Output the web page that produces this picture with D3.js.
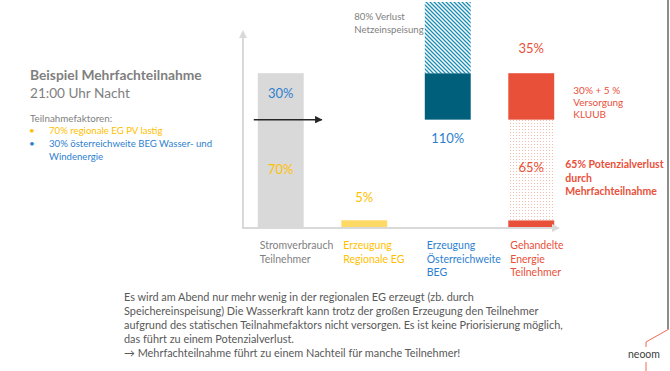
<!DOCTYPE html>
<html lang="de">
<head>
    <meta charset="UTF-8">
    <title>Beispiel Mehrfachteilnahme</title>
    <style>
        body { margin: 0; background: #fff; }
        svg { display: block; font-family: Lato, "Open Sans", sans-serif; }
    </style>
</head>
<body>
<svg width="670" height="371"></svg>
<script src="https://d3js.org/d3.v7.min.js"></script>
<script>
    // categories along the x axis (label lines)
    const categories = ["verbrauch", "regional", "beg", "gehandelt"];
    const categoryLabels = [
        ["Stromverbrauch", "Teilnehmer"],
        ["Erzeugung", "Regionale EG"],
        ["Erzeugung", "Österreichweite", "BEG"],
        ["Gehandelte", "Energie", "Teilnehmer"]
    ];
    const categoryColors = ["#7f7f7f", "#ffc000", "#2e7fd0", "#e9503a"];

    // stacked segments: [category, from %, to %, fill]
    const segCategory = ["verbrauch", "regional", "beg", "beg", "gehandelt", "gehandelt", "gehandelt"];
    const segFrom = [0, 0, 70, 100, 0, 5, 70];
    const segTo = [100, 5, 100, 146, 5, 70, 100];
    const segFill = ["#d9d9d9", "#ffd966", "#005f7a", "url(#hatch)", "#e9503a", "url(#dots)", "#e9503a"];

    // value labels: [category, y value, text, colour]
    const valCategory = ["verbrauch", "verbrauch", "regional", "beg", "gehandelt", "gehandelt"];
    const valY = [84, 35, 17, 55, 113, 36];
    const valText = ["30%", "70%", "5%", "110%", "35%", "65%"];
    const valColor = ["#2e7fd0", "#ffc000", "#ffc000", "#2e7fd0", "#e9503a", "#e9503a"];

    const arrowLevel = 70;

    const svg = d3.select("svg");

    const x = d3.scaleBand().domain(categories).range([239, 573]).paddingInner(0.45).paddingOuter(0.225);
    const y = d3.scaleLinear().domain([0, 146]).range([228, 2]);

    const defs = svg.append("defs");
    const hatch = defs.append("pattern").attr("id", "hatch")
        .attr("patternUnits", "userSpaceOnUse").attr("width", 4).attr("height", 4);
    hatch.append("rect").attr("width", 4).attr("height", 4).attr("fill", "#fff");
    hatch.append("path").attr("d", "M-1,-1L5,5M-1,3L1,5M3,-1L5,1")
        .attr("stroke", "#1a8db5").attr("stroke-width", 1.3);
    const dots = defs.append("pattern").attr("id", "dots")
        .attr("patternUnits", "userSpaceOnUse").attr("width", 3).attr("height", 3);
    dots.append("rect").attr("width", 3).attr("height", 3).attr("fill", "#fff");
    dots.append("rect").attr("width", 1).attr("height", 1).attr("fill", "#f6bdb2");
    const arrowHead = defs.append("marker").attr("id", "axisHead")
        .attr("viewBox", "0 0 10 10").attr("refX", 5).attr("refY", 5)
        .attr("markerWidth", 4).attr("markerHeight", 4).attr("orient", "auto");
    arrowHead.append("path").attr("d", "M0,0L10,5L0,10Z").attr("fill", "#d9d9d9");
    const blackHead = defs.append("marker").attr("id", "blackHead")
        .attr("viewBox", "0 0 10 10").attr("refX", 9).attr("refY", 5)
        .attr("markerWidth", 5).attr("markerHeight", 5).attr("orient", "auto");
    blackHead.append("path").attr("d", "M0,0L10,5L0,10Z").attr("fill", "#262626");

    // title block
    const left = svg.append("g").attr("fill", "#7f7f7f");
    left.append("text").attr("x", 30).attr("y", 80).attr("font-size", 13.8).attr("font-weight", "bold")
        .text("Beispiel Mehrfachteilnahme");
    left.append("text").attr("x", 30).attr("y", 98).attr("font-size", 13.6).text("21:00 Uhr Nacht");
    left.append("text").attr("x", 30).attr("y", 122).attr("font-size", 9.8).text("Teilnahmefaktoren:");
    const bullets = [
        {color: "#ffc000", lines: ["70% regionale EG PV lastig"], y: 134},
        {color: "#2e7fd0", lines: ["30% österreichweite BEG Wasser- und", "Windenergie"], y: 147}
    ];
    bullets.forEach(b => {
        left.append("text").attr("x", 29).attr("y", b.y).attr("font-size", 10).attr("fill", b.color).text("•");
        b.lines.forEach((l, i) => {
            left.append("text").attr("x", 49).attr("y", b.y + i * 12.5).attr("font-size", 9.6)
                .attr("fill", b.color).text(l);
        });
    });

    // bars
    svg.append("g").selectAll("rect").data(segCategory).join("rect")
        .attr("x", (d, i) => x(d))
        .attr("width", x.bandwidth())
        .attr("y", (d, i) => y(segTo[i]))
        .attr("height", (d, i) => y(segFrom[i]) - y(segTo[i]))
        .attr("fill", (d, i) => segFill[i]);

    // axes
    svg.append("line").attr("x1", 243).attr("y1", y(0)).attr("x2", 243).attr("y2", 34)
        .attr("stroke", "#d9d9d9").attr("stroke-width", 2).attr("marker-end", "url(#axisHead)");
    svg.append("line").attr("x1", 242).attr("y1", y(0)).attr("x2", x.range()[1] - 17).attr("y2", y(0))
        .attr("stroke", "#d9d9d9").attr("stroke-width", 2).attr("marker-end", "url(#axisHead)");

    // arrow at 70 %
    svg.append("line").attr("x1", x("verbrauch") - 4).attr("x2", x("verbrauch") + 64)
        .attr("y1", y(arrowLevel)).attr("y2", y(arrowLevel))
        .attr("stroke", "#262626").attr("stroke-width", 1.5).attr("marker-end", "url(#blackHead)");

    // value labels
    svg.append("g").selectAll("text").data(valCategory).join("text")
        .attr("x", d => x(d) + x.bandwidth() / 2)
        .attr("y", (d, i) => y(valY[i]))
        .attr("text-anchor", "middle")
        .attr("font-size", 13)
        .attr("fill", (d, i) => valColor[i])
        .text((d, i) => valText[i]);

    // category labels
    categories.forEach((c, i) => {
        categoryLabels[i].forEach((l, j) => {
            svg.append("text").attr("x", x(c) + 2).attr("y", 249 + j * 13.5)
                .attr("font-size", 10.5).attr("fill", categoryColors[i]).text(l);
        });
    });

    // annotations
    const note = (lines, x0, y0, color, size, weight, lh) => lines.forEach((l, i) =>
        svg.append("text").attr("x", x0).attr("y", y0 + i * lh).attr("font-size", size)
            .attr("font-weight", weight).attr("fill", color).text(l));
    note(["80% Verlust", "Netzeinspeisung"], x("regional") + 13, 20, "#7f7f7f", 9.6, "normal", 12.5);
    note(["30% + 5 %", "Versorgung", "KLUUB"], x("gehandelt") + 65, 94, "#e9503a", 10, "normal", 12);
    note(["65% Potenzialverlust", "durch", "Mehrfachteilnahme"], x("gehandelt") + 57, 168, "#e9503a", 10.5, "bold", 13.5);

    // explanation text
    const body = ["Es wird am Abend nur mehr wenig in der regionalen EG erzeugt (zb. durch",
        "Speichereinspeisung) Die Wasserkraft kann trotz der großen Erzeugung den Teilnehmer",
        "aufgrund des statischen Teilnahmefaktors nicht versorgen. Es ist keine Priorisierung möglich,",
        "das führt zu einem Potenzialverlust.",
        "→ Mehrfachteilnahme führt zu einem Nachteil für manche Teilnehmer!"];
    note(body, 124, 301, "#595959", 10.9, "normal", 14);

    // logo + frame line
    svg.append("path").attr("d", "M668,0V329").attr("stroke", "#404040").attr("stroke-width", 1.2).attr("fill", "none");
    svg.append("path").attr("d", "M669,329L646,342V347M646,362V371").attr("stroke", "#f26b52")
        .attr("stroke-width", 1).attr("fill", "none");
    svg.append("text").attr("x", 644).attr("y", 358).attr("text-anchor", "middle")
        .attr("font-size", 10.5).attr("fill", "#404040").text("neoom");
</script>
</body>
</html>
